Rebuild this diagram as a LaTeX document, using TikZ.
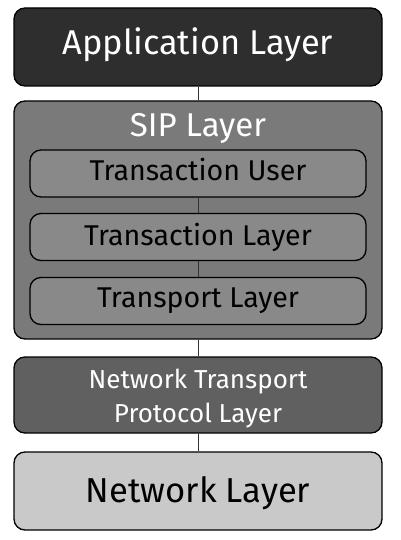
\documentclass[tikz,border=0pt]{standalone}
\usepackage{fontspec}
\setmainfont{Fira Sans}
\definecolor{appfill}{HTML}{2E2E2E}
\definecolor{sipfill}{HTML}{7A7A7A}
\definecolor{innerfill}{HTML}{898989}
\definecolor{ntpfill}{HTML}{606060}
\definecolor{netfill}{HTML}{C9C9C9}
\definecolor{linkcol}{HTML}{333333}
\tikzset{
  layerbox/.style={draw=black, line width=1.3pt, rounded corners=11pt,
    minimum width=368pt, inner sep=0pt},
  innerbox/.style={draw=black, line width=1.3pt, rounded corners=11pt,
    minimum width=336pt, minimum height=47pt, inner sep=0pt, fill=innerfill},
  boxtext/.style={inner sep=0pt, anchor=base},
  innertext/.style={boxtext, font=\fontsize{28.6}{32}\selectfont},
  link/.style={draw=linkcol, line width=0.9pt}
}
\begin{document}
\begin{tikzpicture}[x=1pt,y=-1pt]
\useasboundingbox[fill=white] (0,0) rectangle (400,540);
\node[layerbox, fill=appfill, minimum height=78pt] (app) at (198,47) {};
\node[boxtext, text=white, font=\fontsize{34.4}{38}\selectfont] (apptext) at (198,55) {Application Layer};
\node[layerbox, fill=sipfill, minimum height=238pt] (sip) at (198,220) {};
\node[boxtext, text=white, font=\fontsize{33}{36}\selectfont] (siptitle) at (198,137) {SIP Layer};
\node[innerbox] (tu) at (198,173.5) {};
\node[innertext] (tutext) at (198,180.5) {Transaction User};
\node[innerbox] (tl) at (198,237) {};
\node[innertext] (tltext) at (198,245) {Transaction Layer};
\node[innerbox] (tp) at (198,301) {};
\node[innertext] (tptext) at (198,307.5) {Transport Layer};
\node[layerbox, fill=ntpfill, minimum height=76pt] (ntp) at (198,395) {};
\node[boxtext, text=white, font=\fontsize{26}{30}\selectfont] (ntptext1) at (198,388) {Network Transport};
\node[boxtext, text=white, font=\fontsize{26}{30}\selectfont] (ntptext2) at (198,422.5) {Protocol Layer};
\node[layerbox, fill=netfill, minimum height=78pt] (net) at (198,491) {};
\node[boxtext, font=\fontsize{34.6}{38}\selectfont] (nettext) at (198,502) {Network Layer};
\draw[link] (app.south) -- (sip.north);
\draw[link] (tu.south) -- (tl.north);
\draw[link] (tl.south) -- (tp.north);
\draw[link] (sip.south) -- (ntp.north);
\draw[link] (ntp.south) -- (net.north);
\end{tikzpicture}
\end{document}
